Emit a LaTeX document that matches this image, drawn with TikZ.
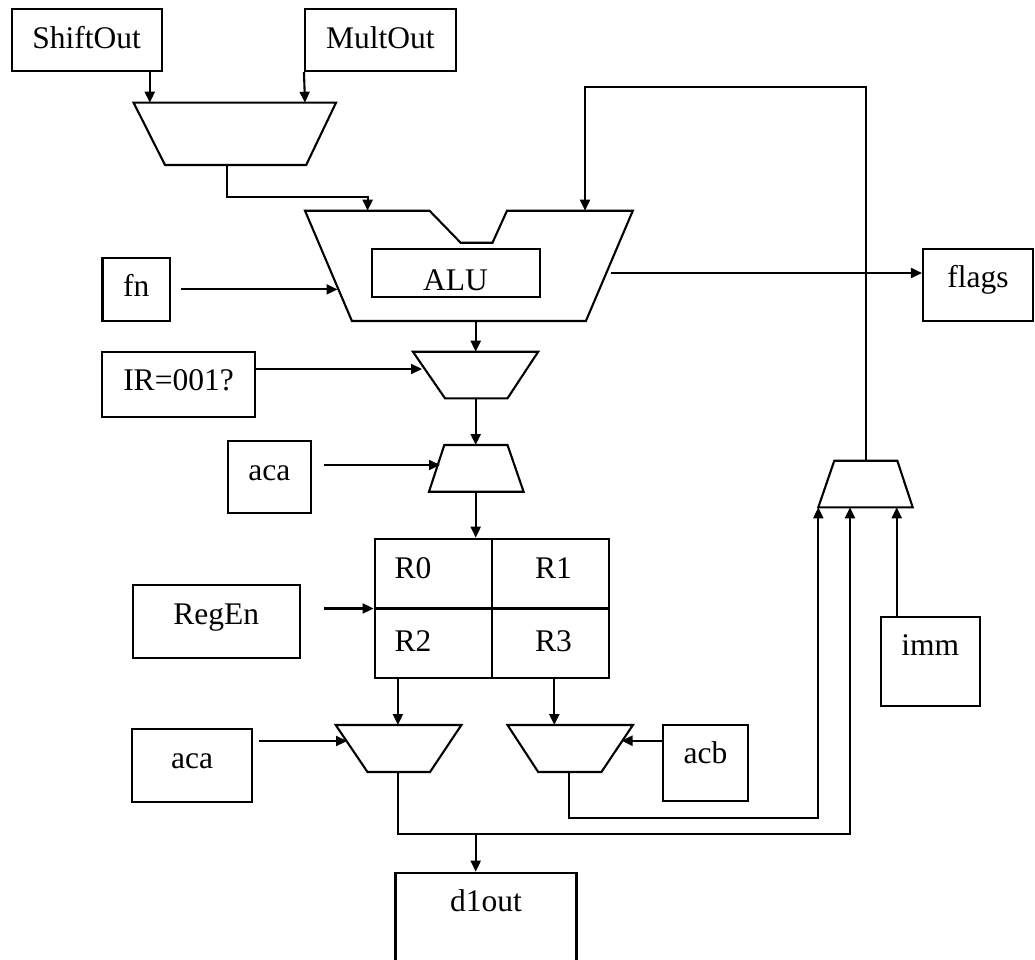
\documentclass[tikz,border=0pt]{standalone}
\usepackage{fontspec}
\setmainfont{Liberation Serif}
\usetikzlibrary{arrows.meta}
\begin{document}
\begin{tikzpicture}[x=1pt,y=-1pt,
  box/.style={draw, line width=2.1pt, rectangle, inner sep=0pt},
  lab/.style={anchor=base, yshift=-40pt, inner sep=0pt, font=\fontsize{31.5}{36}\selectfont},
  txt/.style={anchor=base, inner sep=0pt, font=\fontsize{31.5}{36}\selectfont},
  wire/.style={line width=2.1pt},
  arr/.style={wire, -{Triangle[length=11pt,width=10pt]}},
  mux/.style={draw, line width=2.1pt, line join=miter}]
\useasboundingbox (0,0) rectangle (1035,960);
\clip (0,0) rectangle (1035,960);

% ---------- boxes ----------
\node[box, minimum width=150pt, minimum height=61.7pt, label={[lab]north:ShiftOut}] (shift) at (86.6,40.2) {};
\node[box, minimum width=150.6pt, minimum height=61.7pt, label={[lab]north:MultOut}] (mult) at (380.3,40.2) {};
\node[box, minimum width=67.6pt, minimum height=63.3pt, label={[lab]north:fn}] (fn) at (136.3,289.4) {};
\node[box, minimum width=153pt, minimum height=65.6pt, label={[lab]north:IR=001?}] (ir) at (178.5,384.5) {};
\node[box, minimum width=83.5pt, minimum height=72.3pt, label={[lab]north:aca}] (aca1) at (269.3,477.2) {};
\node[box, minimum width=166.7pt, minimum height=72.7pt, label={[lab]north:RegEn}] (regen) at (216.3,621.4) {};
\node[box, minimum width=120.3pt, minimum height=72.7pt, label={[lab]north:aca}] (aca2) at (192,765.4) {};
\node[box, minimum width=85.6pt, minimum height=76pt, label={[lab]north:acb}] (acb) at (705.5,763) {};
\node[box, minimum width=110pt, minimum height=72pt, label={[lab]north:flags}] (flags) at (978,285) {};
\node[box, minimum width=99.3pt, minimum height=89pt, label={[lab]north:imm}] (imm) at (930.3,661.2) {};
\node[box, minimum width=181pt, minimum height=127pt, label={[lab]north:d1out}] (d1out) at (486,936.2) {};

% ---------- register file ----------
\node[box, minimum width=234pt, minimum height=139.6pt] (reg) at (491.6,608.5) {};
\draw[line width=2.1pt] (reg.north) -- (reg.south);
\draw[line width=2.1pt] (reg.west) -- (reg.east);
\node[txt] (r0) at (413,578.3) {R0};
\node[txt] (r1) at (553.6,578.3) {R1};
\node[txt] (r2) at (413,651.7) {R2};
\node[txt] (r3) at (553.6,651.7) {R3};

% ---------- top mux ----------
\draw[mux] (133.6,102.7) -- (336,102.7) -- (306.2,165) -- (165,165) -- cycle;
\coordinate (m1a) at (149.8,102.7);
\coordinate (m1b) at (305,102.7);
\coordinate (m1o) at (227.4,165);

% ---------- ALU ----------
\draw[mux] (305,210.7) -- (429.5,210.7) -- (460.6,242.7) -- (492.5,242.7) -- (507,210.7)
  -- (632.8,210.7) -- (585.9,321) -- (351.9,321) -- cycle;
\node[box, minimum width=168pt, minimum height=47.4pt] (alubox) at (456.2,273) {};
\node[txt] (alutxt) at (455.6,290) {ALU};
\coordinate (aluA) at (367.6,210.7);
\coordinate (aluB) at (585,210.7);
\coordinate (aluF) at (337.5,289.4);
\coordinate (aluR) at (611,273);
\coordinate (aluO) at (475.7,321);

% ---------- mux2 (IR) ----------
\draw[mux] (412.9,351.7) -- (538.2,351.7) -- (507.5,398.3) -- (445,398.3) -- cycle;
\coordinate (m2i) at (475.7,351.7);
\coordinate (m2s) at (422,369);
\coordinate (m2o) at (475.7,398.3);

% ---------- mux3 (aca) ----------
\draw[mux] (444.3,445) -- (507.5,445) -- (523.6,491.7) -- (429,491.7) -- cycle;
\coordinate (m3i) at (475.7,445);
\coordinate (m3s) at (440,465);
\coordinate (m3o) at (475.7,491.7);

% ---------- mux4 / mux5 ----------
\draw[mux] (335.7,725) -- (461.4,725) -- (430,772) -- (367.5,772) -- cycle;
\coordinate (m4i) at (397.9,725);
\coordinate (m4s) at (347,741);
\coordinate (m4o) at (397.9,772);
\draw[mux] (507.5,725) -- (632.9,725) -- (601.4,772) -- (538.2,772) -- cycle;
\coordinate (m5i) at (554.3,725);
\coordinate (m5s) at (621.5,740.7);
\coordinate (m5o) at (569.3,772);

% ---------- mux6 ----------
\draw[mux] (834.3,460.7) -- (897.3,460.7) -- (912.7,507.3) -- (818.3,507.3) -- cycle;
\coordinate (m6o) at (865.7,460.7);
\coordinate (m6a) at (818.3,507.3);
\coordinate (m6b) at (850,507.3);
\coordinate (m6c) at (896.7,507.3);

% ---------- wiring helpers ----------
\coordinate (fbtop) at (585,86.7);
\coordinate (bus1) at (850,834.3);
\coordinate (bus2) at (818.3,818);
\coordinate (jn) at (475.7,834.3);

% ---------- connectors ----------
\draw[arr] (shift.south -| m1a) -- (m1a);
\draw[arr] (mult.south west) -- (m1b);
\draw[arr] (m1o) -- ++(0,31.7) -| (aluA);
\draw[arr] (m6o) |- (fbtop) -- (aluB);
\draw[arr] (fn.east) ++(9.6,0) -- (aluF);
\draw[arr] (aluR) -- (aluR -| flags.west);
\draw[arr] (aluO) -- (m2i);
\draw[arr] (m2s -| ir.east) ++(-2.5,0) -- (m2s);
\draw[arr] (m2o) -- (m3i);
\draw[arr] (m3s -| aca1.east) ++(11.9,0) -- (m3s);
\draw[arr] (m3o) -- (m3o |- reg.north);
\draw[arr] (reg.west -| regen.east) ++(23.3,0) -- (reg.west);
\draw[arr] (reg.south -| m4i) -- (m4i);
\draw[arr] (reg.south -| m5i) -- (m5i);
\draw[arr] (m4s -| aca2.east) ++(5.4,0) -- (m4s);
\draw[arr] (m5s -| acb.west) -- (m5s);
\draw[arr] (m4o) |- (bus1) -- (m6b);
\draw[arr] (jn) -- (jn |- d1out.north);
\draw[arr] (m5o) |- (bus2) -- (m6a);
\draw[arr] (imm.north -| m6c) -- (m6c);
\end{tikzpicture}
\end{document}
